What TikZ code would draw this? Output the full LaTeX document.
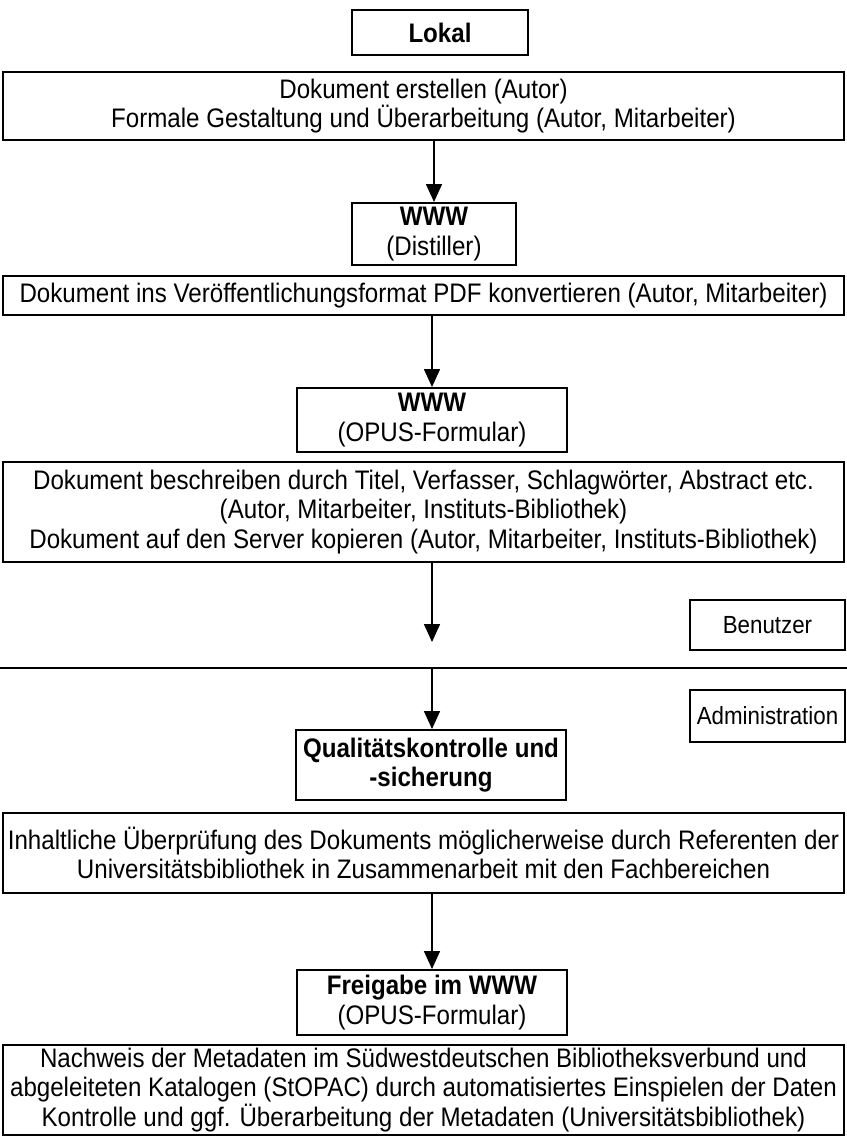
\documentclass[tikz,border=0pt]{standalone}
\usepackage{fontspec}
\setmainfont{Liberation Sans}[FakeStretch=0.9]
\usetikzlibrary{arrows.meta}

\begin{document}
\begin{tikzpicture}[x=0.5pt,y=-0.5pt,
	kasten/.style={draw,line width=1pt,inner sep=0pt,align=center,font=\fontsize{13.4}{14.6}\selectfont},
	rolle/.style={kasten,font=\fontsize{12.4}{14}\selectfont,minimum width=77.5pt},
	pfeil/.style={-{Triangle[width=8pt,length=9pt]},line width=0.8pt}]
	\useasboundingbox (0,0) rectangle (847,1137);
	% lokal
	\node[kasten,minimum width=88pt,minimum height=22.5pt] (lokal) at (440,32.5) {\textbf{Lokal}};
	\node[kasten,minimum width=420.5pt,minimum height=34pt] (erstellen) at (423.5,106) {Dokument erstellen (Autor)\\Formale Gestaltung und Überarbeitung (Autor, Mitarbeiter)};
	\node[kasten,minimum width=82pt,minimum height=31pt] (distiller) at (434,234) {\textbf{WWW}\\(Distiller)};
	\node[kasten,minimum width=420.5pt,minimum height=19.5pt] (pdf) at (423.5,295.5) {Dokument ins Veröffentlichungsformat PDF konvertieren (Autor, Mitarbeiter)};
	\node[kasten,minimum width=135pt,minimum height=32pt] (opus) at (432,420) {\textbf{WWW}\\(OPUS-Formular)};
	\node[kasten,minimum width=420.5pt,minimum height=50pt] (beschreiben) at (423.5,512) {Dokument beschreiben durch Titel, Verfasser, Schlagwörter, Abstract etc.\\(Autor, Mitarbeiter, Instituts-Bibliothek)\\Dokument auf den Server kopieren (Autor, Mitarbeiter, Instituts-Bibliothek)};
	% benutzer / administration
	\node[rolle,minimum height=25pt] (benutzer) at (767.5,625) {Benutzer};
	\coordinate (pfeilende) at (432,642);
	\coordinate (trennlinks) at (0,668);
	\coordinate (trennrechts) at (847,668);
	\coordinate (trennmitte) at (432,668);
	\node[rolle,minimum height=26pt] (admin) at (767.5,716) {Administration};
	\node[kasten,minimum width=135pt,minimum height=35pt] (qual) at (431,765) {\textbf{Qualitätskontrolle und}\\\textbf{-sicherung}};
	\node[kasten,minimum width=420.5pt,minimum height=40pt] (inhalt) at (423.5,853) {Inhaltliche Überprüfung des Dokuments möglicherweise durch Referenten der\\Universitätsbibliothek in Zusammenarbeit mit den Fachbereichen};
	\node[kasten,minimum width=135pt,minimum height=32.5pt] (freigabe) at (432,1002.5) {\textbf{Freigabe im WWW}\\(OPUS-Formular)};
	\node[kasten,minimum width=420.5pt,minimum height=45pt] (nachweis) at (423.5,1090) {Nachweis der Metadaten im Südwestdeutschen Bibliotheksverbund und\\abgeleiteten Katalogen (StOPAC) durch automatisiertes Einspielen der Daten\\Kontrolle und ggf. Überarbeitung der Metadaten (Universitätsbibliothek)};
	% pfeile
	\draw[pfeil] (distiller.north |- erstellen.south) -- (distiller.north);
	\draw[pfeil] (opus.north |- pdf.south) -- (opus.north);
	\draw[pfeil] (beschreiben.south -| pfeilende) -- (pfeilende);
	\draw[line width=1pt] (trennlinks) -- (trennrechts);
	\draw[pfeil] (trennmitte) -- (qual.north -| trennmitte);
	\draw[pfeil] (inhalt.south -| freigabe.north) -- (freigabe.north);
\end{tikzpicture}
\end{document}
